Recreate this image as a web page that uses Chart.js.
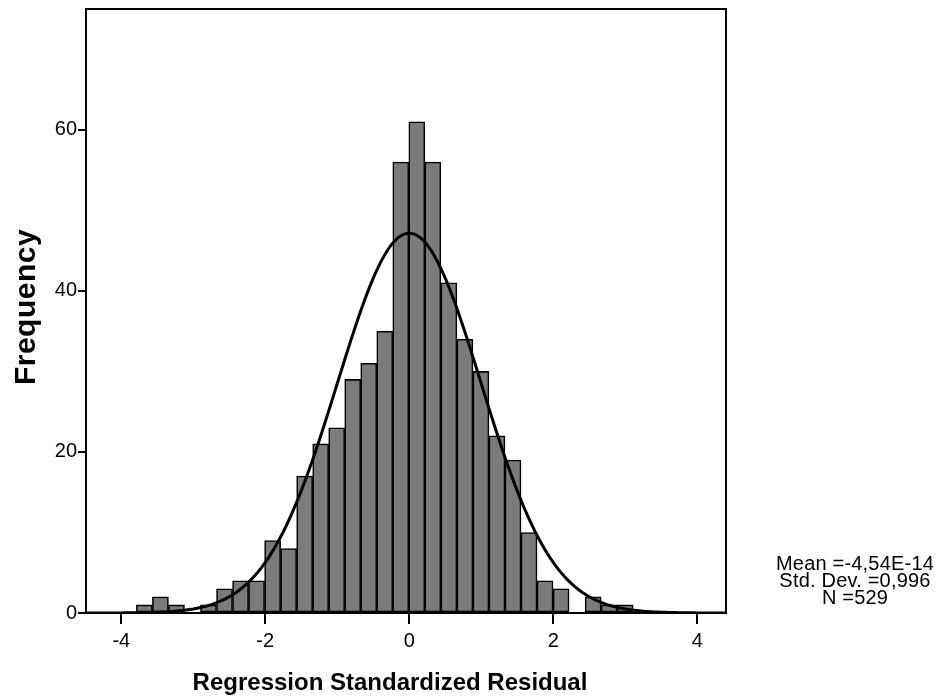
<!DOCTYPE html>
<html>
<head>
<meta charset="utf-8">
<title>Regression Standardized Residual</title>
<script src="https://cdn.jsdelivr.net/npm/chart.js@4.4.0/dist/chart.umd.min.js"></script>
<style>
  html, body { margin: 0; padding: 0; background: #ffffff; }
  #wrap { position: relative; width: 941px; height: 700px; }
  canvas { display: block; }
</style>
</head>
<body>
<div id="wrap"><canvas id="hist" width="941" height="700"></canvas></div>
<script>
// Histogram bins: centre of each bin (standardized residual) and its frequency
const binCenters = [
  -3.6787, -3.4561, -3.2335, -3.0109, -2.7883, -2.5657, -2.3431, -2.1205,
  -1.8979, -1.6753, -1.4527, -1.2301, -1.0075, -0.7849, -0.5623, -0.3397,
  -0.1171,  0.1055,  0.3281,  0.5507,  0.7733,  0.9959,  1.2185,  1.4411,
   1.6637,  1.8863,  2.1089,  2.3315,  2.5541,  2.7767,  2.9993
];
const binCounts = [
   1,  2,  1,  0,  1,  3,  4,  4,
   9,  8, 17, 21, 23, 29, 31, 35,
  56, 61, 56, 41, 34, 30, 22, 19,
  10,  4,  3,  0,  2,  1,  1
];
const binWidth = 0.2226;

// Axis ticks
const xTickValues = [-4, -2, 0, 2, 4];
const yTickValues = [0, 20, 40, 60];

// Summary statistics shown beside the plot
const residualMean = -4.54e-14;
const residualSD = 0.996;
const residualN = 529;
const statLines = ['Mean =-4,54E-14', 'Std. Dev. =0,996', 'N =529'];

const xTitle = 'Regression Standardized Residual';
const yTitle = 'Frequency';

// Normal density for the stated mean / SD, scaled to counts per bin
const curveXs = [];
for (let i = 0; i <= 180; i++) curveXs.push(-4.5 + i * 0.05);
const normalCurve = curveXs.map(x => {
  const z = (x - residualMean) / residualSD;
  return { x: x, y: residualN * binWidth / (residualSD * Math.sqrt(2 * Math.PI)) * Math.exp(-0.5 * z * z) };
});

const FONT = '"Liberation Sans", Arial, Helvetica, sans-serif';

const decorations = {
  id: 'decorations',
  afterDatasetsDraw(chart) {
    const { ctx, chartArea: a } = chart;
    ctx.save();
    ctx.strokeStyle = '#000';
    ctx.lineWidth = 2;
    ctx.strokeRect(a.left, a.top, a.right - a.left, a.bottom - a.top);
    ctx.restore();
  },
  afterDraw(chart) {
    const ctx = chart.ctx;
    ctx.save();
    ctx.fillStyle = '#000';
    // x-axis title
    ctx.font = 'bold 24px ' + FONT;
    ctx.textAlign = 'center';
    ctx.textBaseline = 'alphabetic';
    ctx.fillText(xTitle, 390, 690);
    // y-axis title
    ctx.save();
    ctx.translate(35, 307);
    ctx.rotate(-Math.PI / 2);
    ctx.font = 'bold 30px ' + FONT;
    ctx.letterSpacing = '0.5px';
    ctx.fillText(yTitle, 0, 0);
    ctx.restore();
    // statistics block
    ctx.font = '20px ' + FONT;
    ctx.letterSpacing = '0.2px';
    ctx.textAlign = 'center';
    statLines.forEach((t, i) => ctx.fillText(t, 855, 570 + i * 17));
    ctx.restore();
  }
};

new Chart(document.getElementById('hist'), {
  type: 'bar',
  data: {
    datasets: [
      {
        type: 'line',
        data: normalCurve,
        borderColor: '#000',
        borderWidth: 3,
        pointRadius: 0,
        tension: 0,
        fill: false,
        order: 0
      },
      {
        type: 'bar',
        data: binCenters.map((c, i) => ({ x: c, y: binCounts[i] })),
        backgroundColor: '#7b7b7b',
        borderColor: '#000',
        borderWidth: 1.6,
        borderSkipped: false,
        barPercentage: 1,
        categoryPercentage: 1,
        order: 1
      }
    ]
  },
  options: {
    responsive: false,
    animation: false,
    devicePixelRatio: 1,
    layout: { padding: { top: 9, right: 215, bottom: 0, left: 0 } },
    plugins: { legend: { display: false }, tooltip: { enabled: false } },
    scales: {
      x: {
        type: 'linear',
        min: -4.49,
        max: 4.4,
        offset: false,
        afterBuildTicks: s => { s.ticks = xTickValues.map(v => ({ value: v })); },
        afterFit: s => { s.height = 87; s.paddingLeft = 0; s.paddingRight = 0; },
        border: { display: false },
        grid: { offset: false, drawOnChartArea: false, drawTicks: true, tickLength: 11, color: '#000', lineWidth: 2 },
        ticks: {
          color: '#000', font: { family: FONT, size: 20 }, padding: 5,
          maxRotation: 0, autoSkip: false, callback: v => String(v)
        }
      },
      y: {
        type: 'linear',
        min: 0,
        max: 75,
        afterBuildTicks: s => { s.ticks = yTickValues.map(v => ({ value: v })); },
        afterFit: s => { s.width = 86; s.paddingTop = 0; s.paddingBottom = 0; },
        border: { display: false },
        grid: { offset: false, drawOnChartArea: false, drawTicks: true, tickLength: 8, color: '#000', lineWidth: 2 },
        ticks: {
          color: '#000', font: { family: FONT, size: 20 }, padding: 1,
          autoSkip: false, callback: v => String(v)
        }
      }
    }
  },
  plugins: [decorations]
});
</script>
</body>
</html>
